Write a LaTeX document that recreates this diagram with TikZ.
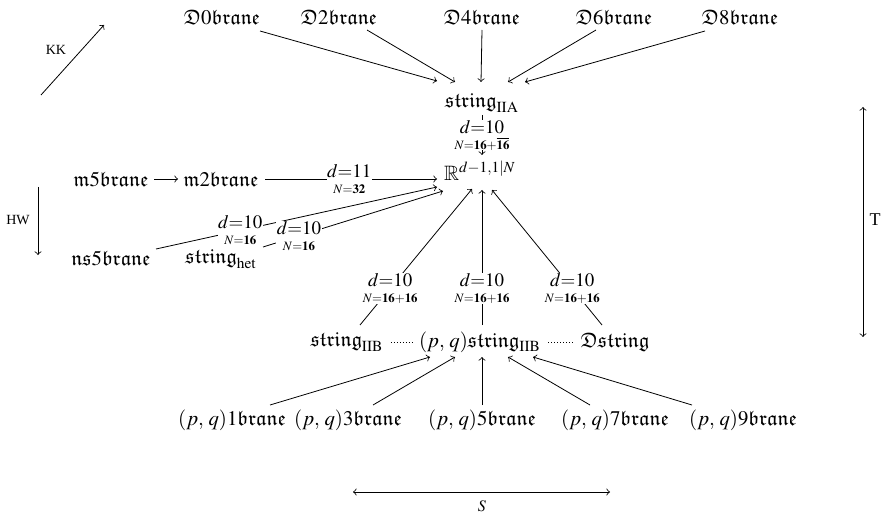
\documentclass[tikz,border=0pt]{standalone}
\usepackage{amssymb}
\usepackage{mathptmx}
\usepackage{fontspec}
\setmainfont{Liberation Serif}
\usetikzlibrary{calc}
\newcommand{\bblab}[2]{{\fontsize{9.5}{8}\selectfont$d{=}#1$}\\[-4pt]{\fontsize{6.4}{6.4}\selectfont$N{=}#2$}}
\begin{document}
\begin{tikzpicture}[x=0.5pt,y=-0.5pt,
  every node/.style={inner sep=1pt},
  obj/.style={font=\fontsize{10.4}{12}\selectfont},
  arr/.style={->},
  lab/.style={fill=white, inner sep=0.2pt, align=center},
  side/.style={font=\fontsize{7}{8}\selectfont},
  fine/.style={dash pattern=on 0.4pt off 1.1pt}]
\useasboundingbox (0,0) rectangle (882,513);
% top row
\node[obj] (D0) at (222,17) {$\mathfrak{D}0\mathfrak{brane}$};
\node[obj] (D2) at (339,17) {$\mathfrak{D}2\mathfrak{brane}$};
\node[obj] (D4) at (482,17) {$\mathfrak{D}4\mathfrak{brane}$};
\node[obj] (D6) at (614,17) {$\mathfrak{D}6\mathfrak{brane}$};
\node[obj] (D8) at (740,17) {$\mathfrak{D}8\mathfrak{brane}$};
\node[obj] (sIIA) at (482,103) {$\mathfrak{string}_{\mathrm{IIA}}$};
\node[obj] (R) at (480,171) {$\mathbb{R}^{d-1,1|N}$};
\node[obj] (m5) at (111,179) {$\mathfrak{m}5\mathfrak{brane}$};
\node[obj] (m2) at (221,179) {$\mathfrak{m}2\mathfrak{brane}$};
\node[obj] (ns5) at (111,258) {$\mathfrak{ns}5\mathfrak{brane}$};
\node[obj] (shet) at (221,259) {$\mathfrak{string}_{\mathrm{het}}$};
\node[obj] (sIIB) at (347,342) {$\mathfrak{string}_{\mathrm{IIB}}$};
\node[obj] (pq) at (480,342) {$(p,\,q)\mathfrak{string}_{\mathrm{IIB}}$};
\node[obj] (Dstr) at (615,342) {$\mathfrak{Dstring}$};
\node[obj] (b1) at (232,420) {$(p,\,q)1\mathfrak{brane}$};
\node[obj] (b3) at (348,420) {$(p,\,q)3\mathfrak{brane}$};
\node[obj] (b5) at (482,420) {$(p,\,q)5\mathfrak{brane}$};
\node[obj] (b7) at (615,420) {$(p,\,q)7\mathfrak{brane}$};
\node[obj] (b9) at (743,420) {$(p,\,q)9\mathfrak{brane}$};
% D-branes to string IIA
\draw[arr] ($(D0)+(38,14)$) -- ($(sIIA)+(-45,-22)$);
\draw[arr] ($(D2)+(28,13)$) -- ($(sIIA)+(-27,-21)$);
\draw[arr] ($(D4)+(0,13)$) -- ($(sIIA)+(-1,-21)$);
\draw[arr] ($(D6)+(-18,13)$) -- ($(sIIA)+(26,-21)$);
\draw[arr] ($(D8)+(-35,14)$) -- ($(sIIA)+(43,-21)$);
% into R
\draw[arr] ($(sIIA)+(0,12)$) -- node[lab,pos=0.5]{\bblab{10}{\mathbf{16}{+}\overline{\mathbf{16}}}} ($(R)+(2,-16)$);
\draw[arr] ($(m5)+(43,0)$) -- ($(m2)+(-43,0)$);
\draw[arr] ($(m2)+(44,0)$) -- node[lab,pos=0.49]{\bblab{11}{\mathbf{32}}} ($(R)+(-43,8)$);
\draw[arr] ($(ns5)+(45,-9)$) -- node[lab,pos=0.3]{\bblab{10}{\mathbf{16}}} ($(R)+(-43,16)$);
\draw[arr] ($(shet)+(42,-12)$) -- node[lab,pos=0.2]{\bblab{10}{\mathbf{16}}} ($(R)+(-37,20)$);
\draw[arr] ($(sIIB)+(13,-17)$) -- node[lab,pos=0.27]{\bblab{10}{\mathbf{16}{+}\mathbf{16}}} ($(R)+(-8,18)$);
\draw[arr] ($(pq)+(2,-17)$) -- node[lab,pos=0.27]{\bblab{10}{\mathbf{16}{+}\mathbf{16}}} ($(R)+(2,19)$);
\draw[arr] ($(Dstr)+(-13,-17)$) -- node[lab,pos=0.27]{\bblab{10}{\mathbf{16}{+}\mathbf{16}}} ($(R)+(12,19)$);
% dotted
\draw[fine, shorten <=2.5pt, shorten >=1pt] (sIIB) -- (pq);
\draw[fine, shorten <=2.5pt, shorten >=2.5pt] (pq) -- (Dstr);
% bottom row
\draw[arr] ($(b1)+(38,-15)$) -- ($(pq)+(-50,15)$);
\draw[arr] ($(b3)+(25,-15)$) -- ($(pq)+(-25,15)$);
\draw[arr] ($(b5)+(0,-15)$) -- ($(pq)+(2,15)$);
\draw[arr] ($(b7)+(-25,-15)$) -- ($(pq)+(28,15)$);
\draw[arr] ($(b9)+(-51,-15)$) -- ($(pq)+(53,15)$);
% side arrows
\coordinate (KKa) at (41,95); \coordinate (KKb) at (104,25);
\draw[arr] (KKa) -- (KKb);
\node[side] (KK) at (56,50) {KK};
\coordinate (HWa) at (38,187); \coordinate (HWb) at (38,255);
\draw[arr] (HWa) -- (HWb);
\node[side] (HW) at (18,220) {HW};
\coordinate (Ta) at (863,107); \coordinate (Tb) at (863,337);
\draw[<->] (Ta) -- (Tb);
\node[font=\fontsize{9}{10}\selectfont] (T) at (875,220) {T};
\coordinate (Sa) at (353,492); \coordinate (Sb) at (610,492);
\draw[<->] (Sa) -- (Sb);
\node[font=\fontsize{8}{9}\selectfont] (S) at (482,506) {$S$};
\end{tikzpicture}
\end{document}
